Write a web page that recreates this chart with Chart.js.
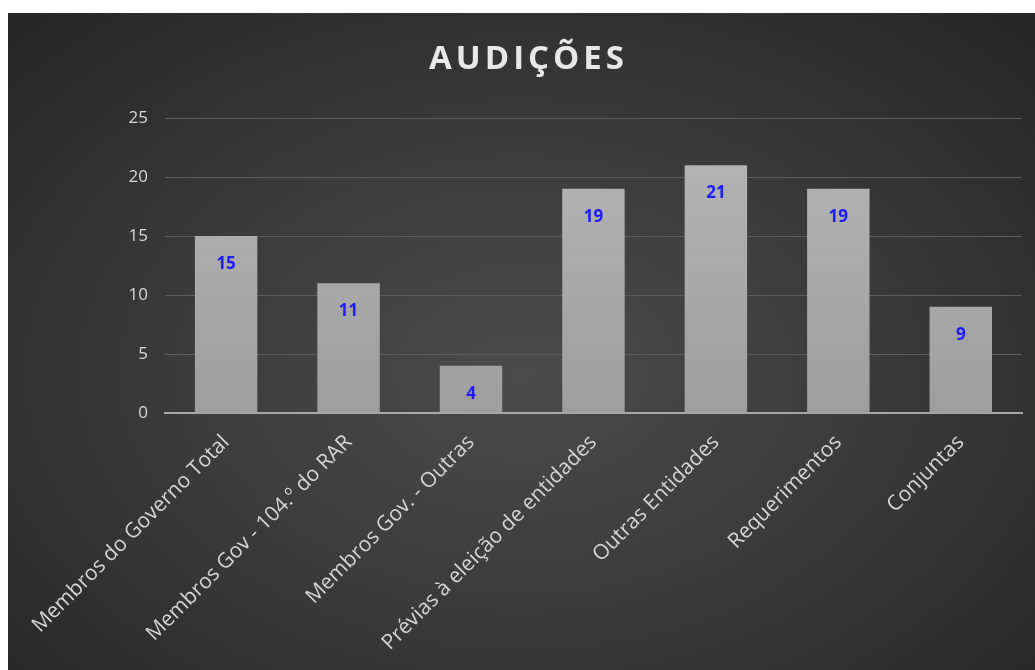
<!DOCTYPE html>
<html>
<head>
<meta charset="utf-8">
<script src="https://cdn.jsdelivr.net/npm/chart.js@4.4.1/dist/chart.umd.min.js"></script>
<style>
  html, body { margin: 0; padding: 0; background: #fff; }
  #wrap {
    position: absolute; left: 8px; top: 13px; width: 1027px; height: 657px;
    background: radial-gradient(ellipse 70% 75% at 50% 55%, #4b4b4b 0%, #3c3c3c 45%, #262626 100%);
  }
</style>
</head>
<body>
<div id="wrap"><canvas id="chart" width="1027" height="657"></canvas></div>
<script>
const categories = [
  "Membros do Governo Total",
  "Membros Gov - 104.º do RAR",
  "Membros Gov. - Outras",
  "Prévias à eleição de entidades",
  "Outras Entidades",
  "Requerimentos",
  "Conjuntas"
];
const audicoes = [15, 11, 4, 19, 21, 19, 9];
const yTicks = [0, 5, 10, 15, 20, 25];
const chartTitle = 'AUDIÇÕES';

// título com espaçamento entre letras
const titleDraw = {
  id: 'titleDraw',
  afterDraw(chart) {
    const ctx = chart.ctx;
    ctx.save();
    ctx.font = 'bold 33px "Open Sans", sans-serif';
    ctx.fillStyle = '#e8e8e8';
    ctx.textAlign = 'center';
    ctx.textBaseline = 'middle';
    ctx.letterSpacing = '4px';
    ctx.fillText(chartTitle, chart.width / 2 + 7, 47);
    ctx.restore();
  }
};

// rótulos azuis dentro das barras
const valueLabels = {
  id: 'valueLabels',
  afterDatasetsDraw(chart) {
    const ctx = chart.ctx;
    const meta = chart.getDatasetMeta(0);
    ctx.save();
    ctx.font = 'bold 17px "Open Sans", sans-serif';
    ctx.fillStyle = '#1c1cff';
    ctx.textAlign = 'center';
    ctx.textBaseline = 'middle';
    meta.data.forEach((bar, i) => {
      ctx.fillText(audicoes[i], bar.x, bar.y + 28);
    });
    ctx.restore();
  }
};

const ctx = document.getElementById('chart').getContext('2d');

new Chart(ctx, {
  type: 'bar',
  data: {
    labels: categories,
    datasets: [{
      data: audicoes,
      backgroundColor: function (c) {
        const area = c.chart.chartArea;
        if (!area) return '#aaa';
        const g = c.chart.ctx.createLinearGradient(0, area.top, 0, area.bottom);
        g.addColorStop(0, '#b6b6b6');
        g.addColorStop(1, '#9e9e9e');
        return g;
      },
      barPercentage: 0.51,
      categoryPercentage: 1
    }]
  },
  options: {
    responsive: false,
    animation: false,
    layout: { padding: { top: 105, right: 13, left: 0, bottom: 0 } },
    scales: {
      y: {
        min: 0,
        max: 25,
        afterBuildTicks: (axis) => { axis.ticks = yTicks.map(v => ({ value: v })); },
        afterFit: (axis) => { axis.width = 153; },
        grid: { color: '#5c5c5c', lineWidth: 1, drawTicks: false },
        border: { display: false },
        ticks: {
          color: '#d8d8d8',
          padding: 17,
          font: { size: 17, family: '"Open Sans", sans-serif' }
        }
      },
      x: {
        afterFit: (axis) => { axis.height = 257; },
        grid: { display: false, drawTicks: false },
        border: { display: true, color: '#a8a8a8', width: 2 },
        ticks: {
          color: '#d4d4d4',
          minRotation: 45,
          maxRotation: 45,
          autoSkip: false,
          padding: 17,
          font: { size: 21, family: '"Open Sans", sans-serif' }
        }
      }
    },
    plugins: {
      legend: { display: false },
      tooltip: { enabled: false },
      title: { display: false }
    }
  },
  plugins: [valueLabels, titleDraw]
});
</script>
</body>
</html>
